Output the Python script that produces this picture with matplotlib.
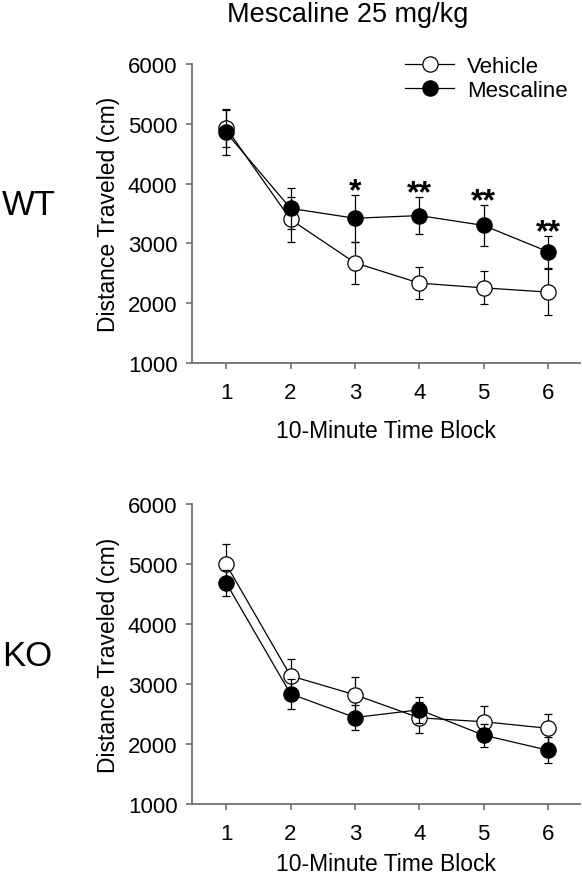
import matplotlib.pyplot as plt

plt.rcParams['font.family'] = ['Liberation Sans', 'DejaVu Sans']

blocks = [1, 2, 3, 4, 5, 6]

# WT
wt_vehicle = [4930, 3400, 2675, 2335, 2255, 2185]
wt_vehicle_err = [320, 380, 355, 265, 275, 385]
wt_mescaline = [4855, 3585, 3420, 3465, 3300, 2860]
wt_mescaline_err = [380, 340, 390, 305, 350, 270]
wt_stars = ['', '', '*', '**', '**', '**']

# KO
ko_vehicle = [5000, 3140, 2825, 2440, 2375, 2265]
ko_vehicle_err = [340, 280, 290, 260, 260, 240]
ko_mescaline = [4690, 2840, 2445, 2575, 2150, 1900]
ko_mescaline_err = [220, 250, 215, 215, 190, 220]

fig = plt.figure(figsize=(5.82, 8.79), dpi=100)
ax_top = fig.add_axes([0.330, 0.586, 0.667, 0.340])
ax_bot = fig.add_axes([0.330, 0.084, 0.667, 0.341])

axis_gray = '#707070'


def draw_panel(ax, veh, veh_err, mes, mes_err, xlabelpad):
    veh_line = ax.errorbar(blocks, veh, yerr=veh_err, color='black', lw=0.9, elinewidth=0.9,
                           capsize=3, capthick=0.9, marker='o', ms=11, mfc='white',
                           mec='black', mew=0.9, zorder=2)
    mes_line = ax.errorbar(blocks, mes, yerr=mes_err, color='black', lw=0.9, elinewidth=0.9,
                           capsize=3, capthick=0.9, marker='o', ms=11, mfc='black',
                           mec='black', mew=0.9, zorder=3)
    ax.set_xlim(0.47, 6.5)
    ax.set_ylim(1000, 6000)
    ax.set_xticks(blocks)
    ax.set_yticks([1000, 2000, 3000, 4000, 5000, 6000])
    for side in ['top', 'right']:
        ax.spines[side].set_visible(False)
    for side in ['left', 'bottom']:
        ax.spines[side].set_color(axis_gray)
        ax.spines[side].set_linewidth(1.3)
    ax.tick_params(direction='out', length=4.5, width=1.2, color=axis_gray,
                   labelsize=16)
    ax.tick_params(axis='x', pad=9)
    ax.tick_params(axis='y', pad=6)
    ax.set_xlabel('10-Minute Time Block', fontsize=16.5, labelpad=xlabelpad)
    ax.set_ylabel('Distance Traveled (cm)', fontsize=16.5, labelpad=6)
    return veh_line, mes_line


veh_line, mes_line = draw_panel(ax_top, wt_vehicle, wt_vehicle_err,
                                wt_mescaline, wt_mescaline_err, 11.5)
# bottom label kept just inside the canvas
draw_panel(ax_bot, ko_vehicle, ko_vehicle_err, ko_mescaline, ko_mescaline_err, 5.5)

for x, m, e, s in zip(blocks, wt_mescaline, wt_mescaline_err, wt_stars):
    if s:
        ax_top.text(x, m + e - 190, s, ha='center', va='bottom', fontsize=23,
                    fontweight='bold')

ax_top.legend([veh_line[0], mes_line[0]], ['Vehicle', 'Mescaline'],
              loc='upper left', bbox_to_anchor=(0.549, 1.028), frameon=False,
              fontsize=16, handlelength=2.2, handletextpad=0.6, labelspacing=0.15,
              borderaxespad=0, borderpad=0)

fig.text(0.597, 0.975, 'Mescaline 25 mg/kg', ha='center', va='baseline', fontsize=19.5)
fig.text(0.003, 0.7554, 'WT', ha='left', va='baseline', fontsize=25)
fig.text(0.003, 0.2423, 'KO', ha='left', va='baseline', fontsize=25)

fig.savefig('out.png', dpi=100)
